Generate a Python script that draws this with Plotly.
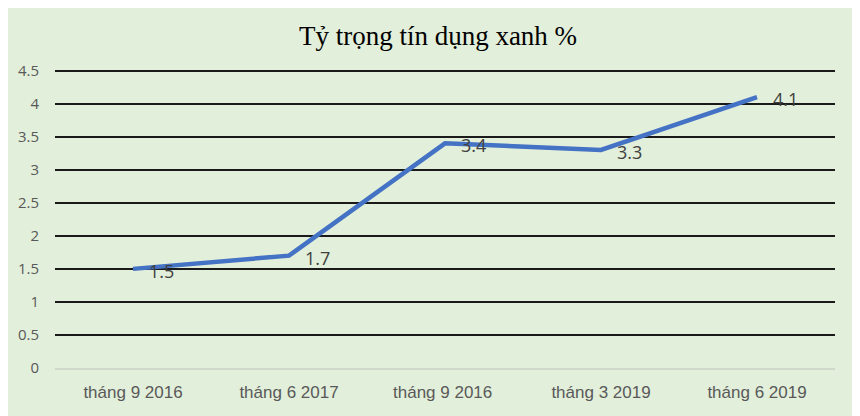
import plotly.graph_objects as go

categories = ["tháng 9 2016", "tháng 6 2017", "tháng 9 2016 ", "tháng 3 2019", "tháng 6 2019"]
values = [1.5, 1.7, 3.4, 3.3, 4.1]
y_ticks = [0, 0.5, 1, 1.5, 2, 2.5, 3, 3.5, 4, 4.5]
y_tick_labels = ["0", "0.5", "1", "1.5", "2", "2.5", "3", "3.5", "4", "4.5"]

BG = "#e2efda"

fig = go.Figure()
fig.add_trace(go.Scatter(
    x=categories, y=values, mode="lines",
    line=dict(color="#4472c4", width=4.5),
    hoverinfo="skip", showlegend=False,
))

for c, v in zip(categories, values):
    fig.add_annotation(
        x=c, y=v, text=f"{v}", showarrow=False,
        xanchor="left", yanchor="middle", xshift=14, yshift=-2,
        font=dict(family="Open Sans, Arial, sans-serif", size=18, color="#404040"),
    )

fig.update_layout(
    width=860, height=416,
    paper_bgcolor=BG, plot_bgcolor=BG,
    margin=dict(l=47, r=33, t=56, b=56, autoexpand=False),
    title=dict(
        text="Tỷ trọng tín dụng xanh %",
        x=0.5, xanchor="center", y=0.933, yanchor="middle",
        font=dict(family="Liberation Serif, Times New Roman, serif", size=27, color="#000000"),
    ),
    xaxis=dict(
        type="category", range=[-0.5, 4.5], showgrid=False, zeroline=False, showline=True,
        linecolor="#d0d8cc", linewidth=1.5,
        tickfont=dict(family="Liberation Sans, Arial, sans-serif", size=17, color="#595959"),
        ticks="outside", ticklen=8, tickcolor="rgba(0,0,0,0)",
    ),
    yaxis=dict(
        range=[0, 4.6], tickvals=y_ticks, ticktext=y_tick_labels,
        showgrid=True, gridcolor="#1a1a1a", gridwidth=2,
        zeroline=False, showline=False,
        tickfont=dict(family="Open Sans, Arial, sans-serif", size=15, color="#595959"),
        ticks="outside", ticklen=12, tickcolor="rgba(0,0,0,0)",
    ),
)

fig.write_html("out.html")
